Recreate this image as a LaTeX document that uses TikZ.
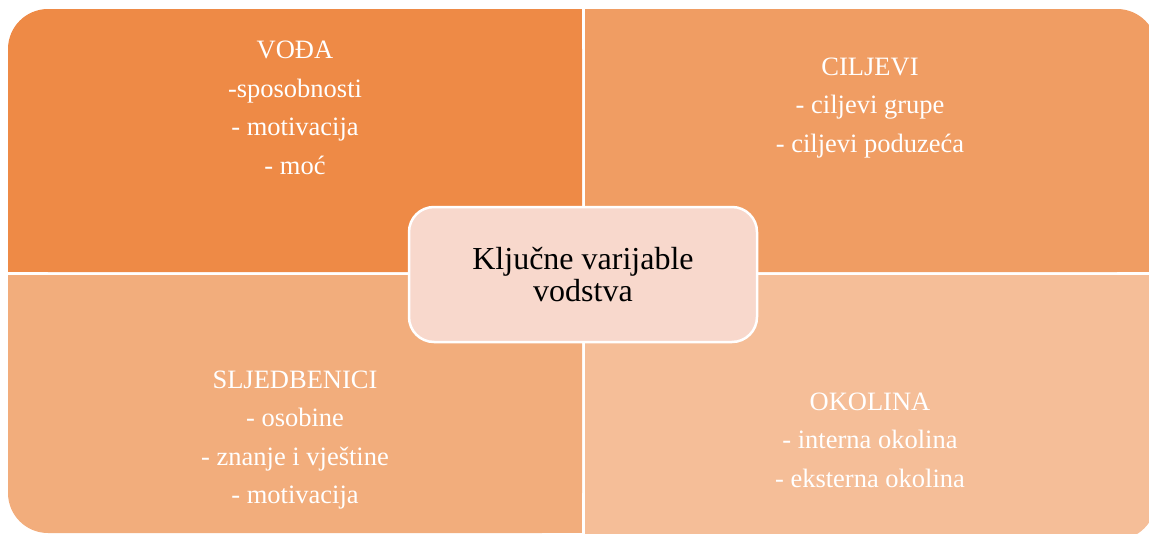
\documentclass[tikz,border=0pt]{standalone}
\usepackage{fontspec}
\setmainfont{Liberation Serif}
\definecolor{cTL}{HTML}{EE8A46}
\definecolor{cTR}{HTML}{F09D63}
\definecolor{cBL}{HTML}{F2AD7C}
\definecolor{cBR}{HTML}{F5BE98}
\definecolor{cC}{HTML}{F8D8CC}
\tikzset{
  quadtext/.style={text=white, align=center, inner sep=0pt, font=\fontsize{26.5}{38.5}\selectfont},
  centerbox/.style={fill=cC, draw=white, line width=2.5pt, rounded corners=25pt, minimum width=348pt, minimum height=135pt, align=center, font=\fontsize{32}{32}\selectfont, text=black}
}
\begin{document}
\begin{tikzpicture}[x=1pt,y=-1pt]
\useasboundingbox (0,0) rectangle (1149,533);
\clip (0,0) rectangle (1149,533);
% top-left quadrant (rounded top-left corner)
\fill[cTL, rounded corners=40pt] (8,9) rectangle (582,272);
\fill[cTL] (48,9) rectangle (582,272);
\fill[cTL] (8,49) rectangle (582,272);
% top-right quadrant (rounded top-right corner)
\fill[cTR, rounded corners=40pt] (585,9) rectangle (1157,272);
\fill[cTR] (585,9) rectangle (1117,272);
\fill[cTR] (585,49) rectangle (1157,272);
% bottom-left quadrant (rounded bottom-left corner)
\fill[cBL, rounded corners=40pt] (8,275) rectangle (582,533);
\fill[cBL] (48,275) rectangle (582,533);
\fill[cBL] (8,275) rectangle (582,493);
% bottom-right quadrant (rounded bottom-right corner)
\fill[cBR, rounded corners=40pt] (585,275) rectangle (1156,540);
\fill[cBR] (585,275) rectangle (1116,540);
\fill[cBR] (585,275) rectangle (1156,500);
% texts
\node[quadtext] (tl) at (295,108) {VOĐA\\-sposobnosti\\- motivacija\\- moć};
\node[quadtext] (tr) at (870,108) {CILJEVI\\- ciljevi grupe\\- ciljevi poduzeća};
\node[quadtext] (bl) at (295,440) {SLJEDBENICI\\- osobine\\- znanje i vještine\\- motivacija};
\node[quadtext] (br) at (870,440) {OKOLINA\\- interna okolina\\- eksterna okolina};
\node[centerbox] (c) at (583,274.5) {Ključne varijable\\vodstva};
\end{tikzpicture}
\end{document}
